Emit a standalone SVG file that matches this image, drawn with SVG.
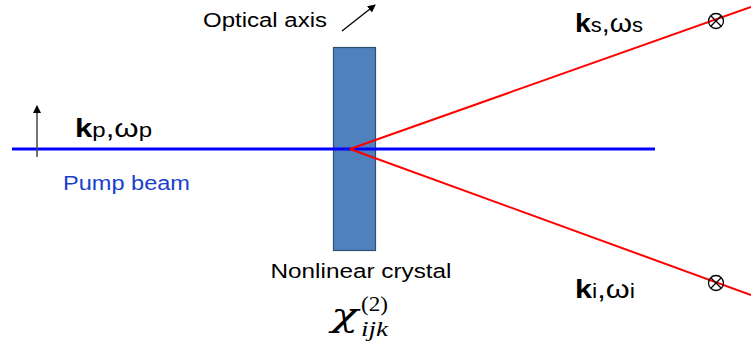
<svg xmlns="http://www.w3.org/2000/svg" width="751" height="347" viewBox="0 0 751 347">
<defs>
<marker id="ah" markerWidth="8" markerHeight="8" refX="7" refY="4" orient="auto" markerUnits="userSpaceOnUse">
<path d="M0,0 L8,4 L0,8 Z" fill="#000"/>
</marker>
<style>
.lbl{font-family:"Liberation Sans",Arial,sans-serif;font-size:20px;fill:#000}
.k{font-family:"Liberation Sans",Arial,sans-serif;font-size:26px;fill:#000}
.kb{font-weight:bold}
.sub{font-size:20px}
.red{stroke:#ff0000;stroke-width:2;fill:none}
.ot{fill:none;stroke:#000;stroke-width:1.3}
</style>
</defs>
<rect width="751" height="347" fill="#fff"/>
<g id="crystal">
<rect x="333.5" y="47.5" width="42" height="203" fill="#4f81bd" stroke="#2f4f70" stroke-width="1.2"/>
<text class="lbl" x="361" y="278" text-anchor="middle" textLength="181" lengthAdjust="spacingAndGlyphs">Nonlinear crystal</text>
<text transform="translate(331,326) scale(1,0.7)" font-family="DejaVu Serif,serif" font-style="italic" font-size="45">χ</text>
<text x="361" y="311" font-family="Liberation Serif,serif" font-size="21" textLength="27" lengthAdjust="spacingAndGlyphs">(2)</text>
<text x="361" y="336" font-family="Liberation Serif,serif" font-style="italic" font-size="21" textLength="27" lengthAdjust="spacingAndGlyphs">ijk</text>
</g>
<g id="connectors">
<line x1="12" y1="149" x2="655" y2="149" stroke="#0000ff" stroke-width="3"/>
<line class="red" x1="350" y1="149" x2="751" y2="7"/>
<line class="red" x1="350" y1="149" x2="751" y2="295"/>
<line x1="37" y1="157" x2="37" y2="106" stroke="#444" stroke-width="1.5" marker-end="url(#ah)"/>
<line x1="342" y1="31" x2="375" y2="5" stroke="#000" stroke-width="1.3" marker-end="url(#ah)"/>
</g>
<g id="optical-axis">
<text class="lbl" x="203" y="27" textLength="124" lengthAdjust="spacingAndGlyphs">Optical axis</text>
</g>
<g id="pump">
<text class="k" x="75" y="137" textLength="77" lengthAdjust="spacingAndGlyphs"><tspan class="kb">k</tspan><tspan class="sub">p</tspan>,ω<tspan class="sub">p</tspan></text>
<text class="lbl" x="63" y="190" style="fill:#1a3fcc" textLength="127" lengthAdjust="spacingAndGlyphs">Pump beam</text>
</g>
<g id="signal">
<text class="k" x="575" y="32" textLength="68" lengthAdjust="spacingAndGlyphs"><tspan class="kb">k</tspan><tspan class="sub">s</tspan>,ω<tspan class="sub">s</tspan></text>
<circle class="ot" cx="716" cy="21" r="7.5"/>
<path class="ot" d="M711,16 L721,26 M721,16 L711,26"/>
</g>
<g id="idler">
<text class="k" x="575" y="298" textLength="60" lengthAdjust="spacingAndGlyphs"><tspan class="kb">k</tspan><tspan class="sub">i</tspan>,ω<tspan class="sub">i</tspan></text>
<circle class="ot" cx="716" cy="283" r="7.5"/>
<path class="ot" d="M711,278 L721,288 M721,278 L711,288"/>
</g>
</svg>
